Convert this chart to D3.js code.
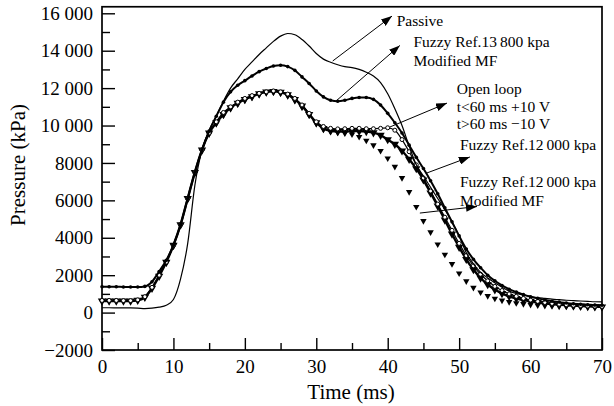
<!DOCTYPE html>
<html>
<head>
<meta charset="utf-8">
<script src="https://cdn.jsdelivr.net/npm/d3@7"></script>
<style>
  html, body { margin: 0; padding: 0; background: #fff; }
  svg { display: block; }
  text { font-family: "Liberation Serif", "Times New Roman", serif; fill: #000; }
</style>
</head>
<body>
<svg id="chart" width="614" height="406"></svg>
<script>
// Time axis (ms), sampled every 1 ms
const time = d3.range(0, 71);

// Pressure (kPa) for each control case
const passive = [260,260,255,250,250,240,215,235,290,390,700,1800,3700,6800,8700,9750,10500,11300,12000,12500,13000,13400,13800,14150,14500,14780,14920,14850,14600,14250,13850,13550,13380,13250,13150,13100,13000,12850,12650,12300,11700,10900,10000,8900,7900,7300,6700,6100,5500,4850,4100,3200,2600,2150,1850,1600,1350,1150,1020,930,860,800,760,720,690,660,640,620,600,580,570];
const fuzzy13800Mod = [1380,1380,1380,1370,1370,1370,1400,1650,2200,2800,3600,4700,6100,7500,8700,9700,10500,11250,11800,12150,12400,12650,12880,13050,13180,13220,13150,12950,12600,12250,11850,11530,11350,11300,11350,11450,11500,11500,11400,11100,10650,10150,9600,8950,8300,7700,7050,6350,5600,4850,4100,3400,2850,2400,2000,1700,1450,1250,1100,960,850,760,680,610,560,510,470,440,420,400,390];
const openLoop = [650,650,650,640,640,680,850,1350,2000,2700,3600,4700,6100,7500,8700,9600,10200,10700,11000,11250,11450,11600,11720,11800,11850,11800,11680,11450,11100,10650,10200,9950,9850,9820,9830,9850,9850,9830,9830,9850,9880,9750,9250,8600,7900,7200,6500,5800,5100,4400,3700,3050,2500,2050,1700,1400,1180,1000,870,760,670,600,540,490,450,420,390,370,350,340,330];
const fuzzy12000 = [620,620,620,620,620,660,820,1300,1950,2700,3600,4700,6100,7500,8700,9600,10150,10600,10950,11200,11400,11550,11700,11800,11830,11780,11650,11400,11050,10600,10150,9850,9720,9680,9680,9700,9700,9680,9620,9480,9250,9000,8650,8200,7700,7100,6400,5700,4950,4200,3500,2850,2300,1850,1500,1230,1020,870,760,670,600,540,490,450,420,390,370,350,330,320,310];
const fuzzy12000Mod = [620,620,620,620,620,660,820,1300,1950,2650,3550,4650,6050,7450,8650,9550,10100,10550,10900,11150,11350,11500,11650,11750,11780,11720,11580,11330,10980,10550,10100,9800,9680,9620,9580,9530,9400,9200,8950,8650,8250,7800,7200,6450,5650,4900,4300,3650,3100,2600,2100,1680,1330,1080,890,750,650,570,510,460,420,390,370,350,330,320,310,300,300,290,290];

// Tick values and labels
const xTicks = [0, 10, 20, 30, 40, 50, 60, 70];
const xMinorTicks = [5, 15, 25, 35, 45, 55, 65];
const yTicks = [-2000, 0, 2000, 4000, 6000, 8000, 10000, 12000, 14000, 16000];
const yTickLabels = ["\u22122000", "0", "2000", "4000", "6000", "8000", "10 000", "12 000", "14 000", "16 000"];
const yMinorTicks = [-1000, 1000, 3000, 5000, 7000, 9000, 11000, 13000, 15000];

// Callout labels: arrow tail/head in data units, text lines
const callouts = [
  { from: [32.3, 13450], to: [40.6, 15850], at: [41.25, 15320], lines: ["Passive"] },
  { from: [32.85, 11340], to: [41.7, 14280], at: [43.6, 14200], lines: ["Fuzzy Ref.13\u2009800 kpa", "Modified MF"] },
  { from: [40.3, 9920], to: [48.3, 11200], at: [49.66, 11685], lines: ["Open loop", "t<60 ms +10 V", "t>60 ms \u221210 V"] },
  { from: [45.46, 7460], to: [51.5, 8320], at: [50.12, 8690], lines: ["Fuzzy Ref.12\u2009000 kpa"] },
  { from: [44.5, 5320], to: [52.5, 5670], at: [50.12, 6740], lines: ["Fuzzy Ref.12\u2009000 kpa", "Modified MF"] }
];

const svg = d3.select("#chart");
const x = d3.scaleLinear().domain([0, 70]).range([102, 602]);
const y = d3.scaleLinear().domain([-2000, 16000]).range([350, 13.3]);
const frameTop = y(16350);

const defs = svg.append("defs");
defs.append("marker")
  .attr("id", "arrowhead")
  .attr("markerUnits", "userSpaceOnUse")
  .attr("markerWidth", 11).attr("markerHeight", 8)
  .attr("refX", 11).attr("refY", 4)
  .attr("orient", "auto")
  .append("path").attr("d", "M0,0 L11,4 L0,8 Z").attr("fill", "#000");

// Axes with inward ticks
const gx = svg.append("g").attr("transform", `translate(0,${y(-2000)})`);
gx.call(d3.axisBottom(x).tickValues(xTicks).tickSize(-12).tickPadding(10).tickFormat(d3.format("d")));
gx.select(".domain").remove();
gx.selectAll(".tick line").attr("stroke", "#000").attr("stroke-width", 1.4);
gx.selectAll(".tick text").attr("font-size", 19).attr("fill", "#000");

const gxm = svg.append("g").attr("transform", `translate(0,${y(-2000)})`);
gxm.call(d3.axisBottom(x).tickValues(xMinorTicks).tickSize(-7).tickFormat(""));
gxm.select(".domain").remove();
gxm.selectAll(".tick line").attr("stroke", "#000").attr("stroke-width", 1.4);

const gy = svg.append("g").attr("transform", `translate(${x(0)},0)`);
gy.call(d3.axisLeft(y).tickValues(yTicks).tickSize(-13).tickPadding(9).tickFormat((d, i) => yTickLabels[i]));
gy.select(".domain").remove();
gy.selectAll(".tick line").attr("stroke", "#000").attr("stroke-width", 1.4);
gy.selectAll(".tick text").attr("font-size", 19).attr("fill", "#000");

const gym = svg.append("g").attr("transform", `translate(${x(0)},0)`);
gym.call(d3.axisLeft(y).tickValues(yMinorTicks).tickSize(-8).tickFormat(""));
gym.select(".domain").remove();
gym.selectAll(".tick line").attr("stroke", "#000").attr("stroke-width", 1.4);

// Frame
svg.append("rect")
  .attr("x", x(0)).attr("y", frameTop)
  .attr("width", x(70) - x(0)).attr("height", y(-2000) - frameTop)
  .attr("fill", "none").attr("stroke", "#000").attr("stroke-width", 1.7);

// Curves
const plot = svg.append("g");
const toPts = vals => time.map((t, i) => [t, vals[i]]);
const line = d3.line().x(d => x(d[0])).y(d => y(d[1])).curve(d3.curveMonotoneX);
const tri = d3.symbol().type(d3.symbolTriangle);

// Fuzzy Ref. 12 000 kpa, modified MF: sparse down triangles
plot.append("g").selectAll("path").data(toPts(fuzzy12000Mod)).join("path")
  .attr("d", tri.size(18)())
  .attr("transform", d => `translate(${x(d[0])},${y(d[1])}) rotate(180)`)
  .attr("fill", "#000");

// Fuzzy Ref. 12 000 kpa: dense down triangles on a heavy line
plot.append("path").datum(toPts(fuzzy12000)).attr("d", line)
  .attr("fill", "none").attr("stroke", "#000").attr("stroke-width", 2.4);
plot.append("g").selectAll("path").data(toPts(fuzzy12000)).join("path")
  .attr("d", tri.size(30)())
  .attr("transform", d => `translate(${x(d[0])},${y(d[1])}) rotate(180)`)
  .attr("fill", "#000");

// Open loop: open circles
plot.append("path").datum(toPts(openLoop)).attr("d", line)
  .attr("fill", "none").attr("stroke", "#000").attr("stroke-width", 1.2);
plot.append("g").selectAll("circle").data(toPts(openLoop)).join("circle")
  .attr("cx", d => x(d[0])).attr("cy", d => y(d[1])).attr("r", 2)
  .attr("fill", "#fff").attr("stroke", "#000").attr("stroke-width", 1);

// Fuzzy Ref. 13 800 kpa, modified MF: small dots
plot.append("path").datum(toPts(fuzzy13800Mod)).attr("d", line)
  .attr("fill", "none").attr("stroke", "#000").attr("stroke-width", 2);
plot.append("g").selectAll("circle").data(toPts(fuzzy13800Mod)).join("circle")
  .attr("cx", d => x(d[0])).attr("cy", d => y(d[1])).attr("r", 1.8)
  .attr("fill", "#000");

// Passive: plain solid line
plot.append("path").datum(toPts(passive)).attr("d", line)
  .attr("fill", "none").attr("stroke", "#000").attr("stroke-width", 1.2);

// Callouts
const notes = svg.append("g");
callouts.forEach(c => {
  notes.append("line")
    .attr("x1", x(c.from[0])).attr("y1", y(c.from[1]))
    .attr("x2", x(c.to[0])).attr("y2", y(c.to[1]))
    .attr("stroke", "#000").attr("stroke-width", 1)
    .attr("marker-end", "url(#arrowhead)");
  const t = notes.append("text").attr("x", x(c.at[0])).attr("y", y(c.at[1])).attr("font-size", 15.5);
  c.lines.forEach((s, i) => {
    t.append("tspan").attr("x", x(c.at[0])).attr("dy", i === 0 ? 0 : (c.lines.length === 3 ? 17.5 : 19.5)).text(s);
  });
});

// Axis titles
svg.append("text")
  .attr("x", 351).attr("y", 399)
  .attr("text-anchor", "middle").attr("font-size", 21)
  .text("Time (ms)");
svg.append("text")
  .attr("transform", "translate(25,165) rotate(-90)")
  .attr("text-anchor", "middle").attr("font-size", 21)
  .text("Pressure (kPa)");
</script>
</body>
</html>
